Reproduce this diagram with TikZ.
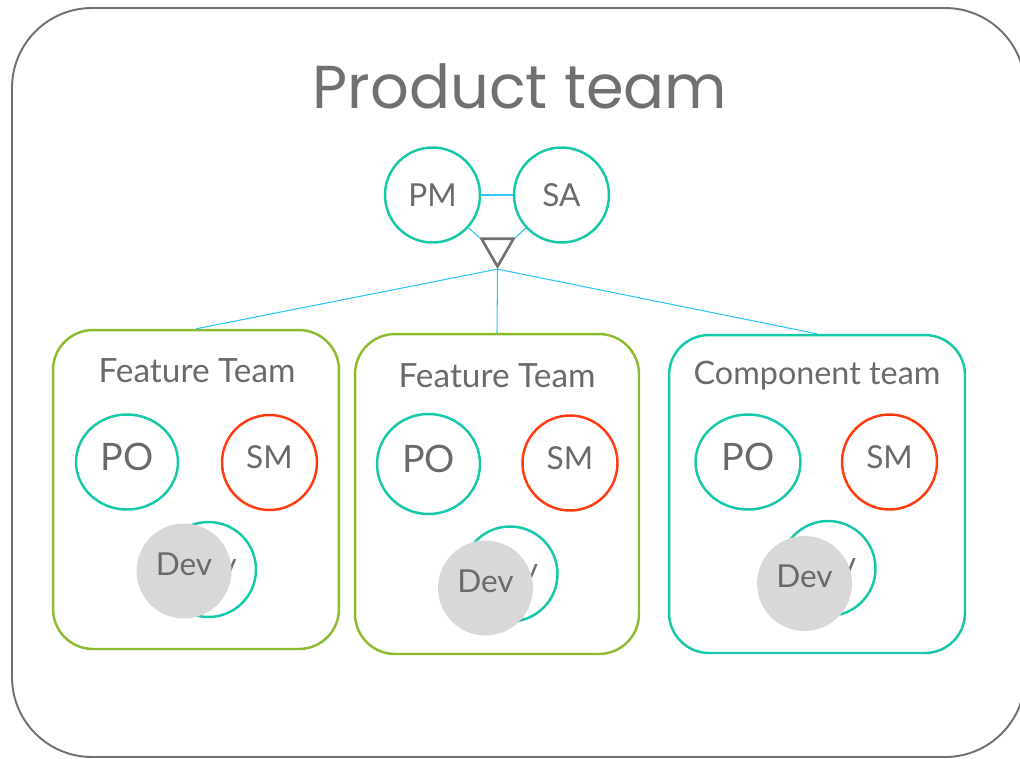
\documentclass[tikz,border=0pt]{standalone}
\usepackage{fontspec}
\setmainfont{Lato}
\newfontfamily\titlefont{Poppins}
\usepackage{tikz}
\usetikzlibrary{shapes}
\definecolor{txtgray}{HTML}{6A6A6A}
\definecolor{framegray}{HTML}{707070}
\definecolor{roleteal}{HTML}{14C8A8}
\definecolor{rolered}{HTML}{FF3B0F}
\definecolor{teamgreen}{HTML}{8DBB2F}
\definecolor{linkblue}{HTML}{2EC5F5}
\definecolor{devgray}{HTML}{D8D8D8}
\tikzset{
  role/.style={circle,draw=roleteal,line width=1.4pt,minimum size=1.9cm,inner sep=0pt,
    text=txtgray,font=\fontsize{18}{21}\selectfont},
  member/.style={role,text depth=6pt},
  sm/.style={member,draw=rolered},
  po/.style={member,ellipse,minimum width=2.04cm,minimum height=1.9cm,font=\fontsize{21.5}{24}\selectfont},
  dev/.style={member,draw=none,fill=devgray,text depth=8pt},
  team/.style={draw,line width=1.4pt,rounded corners=0.8cm},
  teamlabel/.style={text=txtgray,font=\fontsize{19}{22}\selectfont},
  link/.style={draw=linkblue,line width=0.6pt}
}

\begin{document}
\begin{tikzpicture}[x=0.02cm,y=-0.02cm,every text node part/.style={align=center}]
			\useasboundingbox (0,0) rectangle (1020,758);
			\clip (0,0) rectangle (1020,758);
			\draw[framegray,line width=1.1pt,rounded corners=1.6cm] (12,8) rectangle (1025,757);
			\node[text=framegray,font=\titlefont\fontsize{34.5}{40}\selectfont] (title) at (520,86) {Product team};
			% product level
			\node[role] (pm) at (432.5,195) {PM};
			\node[role] (sa) at (561.5,195) {SA};
			\node[regular polygon,regular polygon sides=3,shape border rotate=180,draw=framegray,
				line width=1.5pt,minimum size=0.74cm,inner sep=0pt] (tri) at (497.5,248) {};
			\draw[link] (pm) -- (sa);
			\draw[link] (pm) -- (tri.corner 3);
			\draw[link] (sa) -- (tri.corner 2);
			% teams
			\node[team,draw=teamgreen,minimum width=5.72cm,minimum height=6.38cm] (ft1) at (196,489.5) {};
			\node[team,draw=teamgreen,minimum width=5.68cm,minimum height=6.4cm] (ft2) at (497,494) {};
			\node[team,draw=roleteal,minimum width=5.92cm,minimum height=6.36cm] (ct) at (817,494) {};
			\draw[link] (tri.corner 1) -- (ft1.north);
			\draw[link] (tri.corner 1) -- (ft2.north);
			\draw[link] (tri.corner 1) -- (ct.north);
			\node[teamlabel] (ft1label) at (197,371) {Feature Team};
			\node[teamlabel] (ft2label) at (497,376) {Feature Team};
			\node[teamlabel,font=\fontsize{18.4}{22}\selectfont] (ctlabel) at (817,376) {Component team};
			% feature team 1
			\node[po] (po1) at (127,462) {PO};
			\node[sm] (sm1) at (269.5,462.5) {SM};
			\node[member] (devb1) at (208.5,569.5) {Dev};
			\node[dev] (dev1) at (184,571) {Dev};
			% feature team 2
			\node[po,minimum width=2.06cm,minimum height=2.0cm] (po2) at (428.5,464) {PO};
			\node[sm] (sm2) at (570,463) {SM};
			\node[member] (devb2) at (510,574) {Dev};
			\node[dev] (dev2) at (485.5,588) {Dev};
			% component team
			\node[po,minimum width=2.1cm] (po3) at (748,462) {PO};
			\node[sm] (sm3) at (889.5,462) {SM};
			\node[member] (devb3) at (828,568.5) {Dev};
			\node[dev] (dev3) at (804.5,583.5) {Dev};
		\end{tikzpicture}
\end{document}
